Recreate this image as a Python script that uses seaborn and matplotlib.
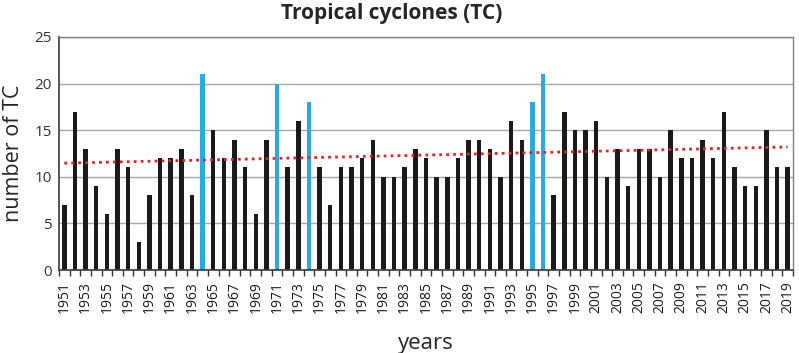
import numpy as np
import pandas as pd
import matplotlib
matplotlib.use("Agg")
import matplotlib.pyplot as plt
from matplotlib.ticker import FixedLocator
import seaborn as sns

years = list(range(1951, 2020))
counts = [7, 17, 13, 9, 6, 13, 11, 3, 8, 12, 12, 13, 8, 21, 15, 12, 14, 11, 6, 14,
          20, 11, 16, 18, 11, 7, 11, 11, 12, 14, 10, 10, 11, 13, 12, 10, 10, 12, 14, 14,
          13, 10, 16, 14, 18, 21, 8, 17, 15, 15, 16, 10, 13, 9, 13, 13, 10, 15, 12, 12,
          14, 12, 17, 11, 9, 9, 15, 11, 11]
highlight_years = [1964, 1971, 1974, 1995, 1996]

title = "Tropical cyclones (TC)"
ylabel = "number of TC"
xlabel = "years"

sns.set_theme(style="white")
plt.rcParams["font.family"] = ["Open Sans", "DejaVu Sans"]

df = pd.DataFrame({"year": [str(y) for y in years], "count": counts})
colors = ["#29abe2" if y in highlight_years else "#1a1a1a" for y in years]

fig = plt.figure(figsize=(7.99, 3.53), dpi=100)
ax = fig.add_axes([59/799, 1 - 270/353, (793-59)/799, (270-37)/353])

sns.barplot(data=df, x="year", y="count", hue="year", palette=colors,
            legend=False, width=0.42, ax=ax, saturation=1, linewidth=0)

# linear trend
xi = np.arange(len(years))
coef = np.polyfit(xi, counts, 1)
ax.plot(xi, np.polyval(coef, xi), linestyle=(0, (1, 1.5)), color="#e8202a", linewidth=2)

ax.set_ylim(0, 25)
ax.set_xlim(-0.5, len(years) - 0.5)
ax.set_yticks([0, 5, 10, 15, 20, 25])
ax.set_yticklabels(["0", "5", "10", "15", "20", "25"], fontsize=11, color="#333333")
ax.yaxis.grid(True, color="#a8a8a8", linewidth=1)
ax.set_axisbelow(True)

ax.set_xticks(xi[::2])
ax.set_xticklabels([str(y) for y in years[::2]], rotation=90, fontsize=10, color="#1a1a1a")
ax.xaxis.set_minor_locator(FixedLocator(np.arange(-0.5, len(years), 1)))
ax.tick_params(axis="x", which="major", length=0, pad=8)
ax.tick_params(axis="x", which="minor", length=4, color="#333333", bottom=True)
ax.tick_params(axis="y", length=0, pad=5)

for s in ["top", "right"]:
    ax.spines[s].set_color("#808080")
    ax.spines[s].set_linewidth(1)
ax.spines["left"].set_color("#404040")
ax.spines["bottom"].set_color("#404040")

ax.set_xlabel(xlabel, fontsize=16, labelpad=14)
ax.set_ylabel(ylabel, fontsize=15.5, labelpad=8)
fig.text(392/799, 1 - 14/353, title, fontsize=15, fontweight="bold",
         ha="center", va="center")

fig.savefig("out.png", dpi=100)
